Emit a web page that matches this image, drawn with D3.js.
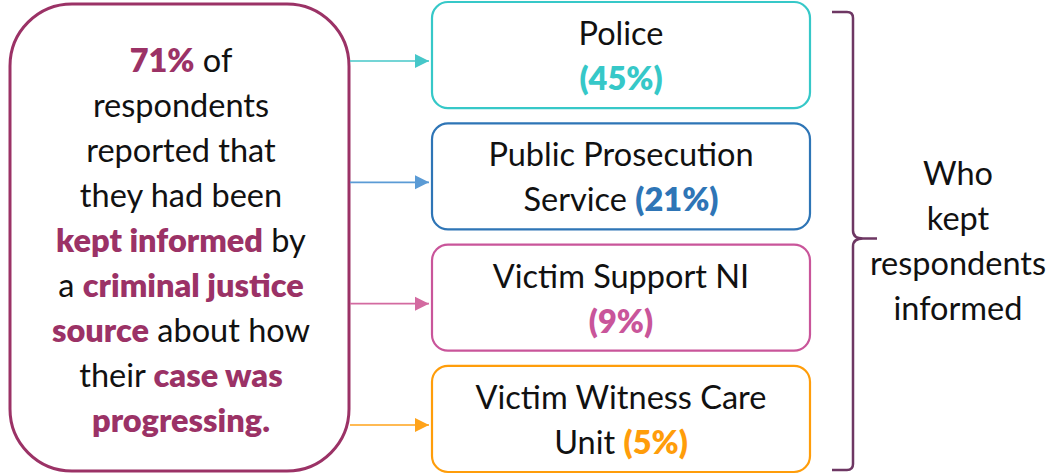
<!DOCTYPE html>
<html>
<head>
<meta charset="utf-8">
<script src="https://cdn.jsdelivr.net/npm/d3@7"></script>
<style>
  html, body { margin: 0; padding: 0; background: #fff; }
  svg { display: block; font-family: Lato, "Noto Sans", sans-serif; }
</style>
</head>
<body>
<div id="canvas"></div>
<script>
var w = 1051;
var h = 476;

// data
var sources = ["Police", "Public Prosecution Service", "Victim Support NI", "Victim Witness Care Unit"];
var shares = [45, 21, 9, 5];
var labelLines = [["Police", ""], ["Public Prosecution", "Service "], ["Victim Support NI", ""], ["Victim Witness Care", "Unit "]];
var boxColors = ["#36c8c8", "#2e75b6", "#c9559a", "#ff9d0a"];
var arrowColors = ["#46c7c9", "#5b9bd5", "#d36aa0", "#ffa31a"];
var keptInformed = 71;
var leftLines = [
  [[keptInformed + "%", true], [" of", false]],
  [["respondents", false]],
  [["reported that", false]],
  [["they had been", false]],
  [["kept informed", true], [" by", false]],
  [["a ", false], ["criminal justice", true]],
  [["source", true], [" about how", false]],
  [["their ", false], ["case was", true]],
  [["progressing.", true]]
];
var braceLines = ["Who", "kept", "respondents", "informed"];

var plum = "#9b3266";
var fontSize = 32.5;

var svg = d3.select("#canvas").append("svg")
  .attr("width", w)
  .attr("height", h);

svg.append("defs").selectAll("marker")
  .data(arrowColors)
  .join("marker")
  .attr("id", function (d, i) { return "arr" + i; })
  .attr("viewBox", "0 0 10 10")
  .attr("refX", 10)
  .attr("refY", 5)
  .attr("markerWidth", 9)
  .attr("markerHeight", 10)
  .attr("markerUnits", "strokeWidth")
  .attr("orient", "auto")
  .append("path")
  .attr("d", "M0,0 L10,5 L0,10 Z")
  .attr("fill", function (d) { return d; });

// vertical band for the four boxes
var y = d3.scaleBand()
  .domain(sources)
  .range([2, 472])
  .paddingInner(0.125)
  .paddingOuter(0);

var boxX0 = 432, boxX1 = 810;

// left box
svg.append("rect")
  .attr("x", 10).attr("y", 4)
  .attr("width", 339).attr("height", 467)
  .attr("rx", 62).attr("ry", 62)
  .attr("fill", "#fff")
  .attr("stroke", plum)
  .attr("stroke-width", 3);

var leftText = svg.append("text")
  .attr("text-anchor", "middle")
  .attr("font-size", fontSize)
  .attr("fill", "#111");
leftLines.forEach(function (line, i) {
  var t = leftText.append("tspan")
    .attr("x", 181)
    .attr("y", 72 + i * 45);
  line.forEach(function (seg) {
    t.append("tspan")
      .attr("font-weight", seg[1] ? 800 : 400)
      .attr("fill", seg[1] ? plum : "#111")
      .text(seg[0]);
  });
});

// arrows
svg.selectAll("line.arrow")
  .data(sources)
  .join("line")
  .attr("class", "arrow")
  .attr("x1", 350)
  .attr("x2", boxX0 - 3)
  .attr("y1", function (d) { return y(d) + y.bandwidth() / 2 + 6; })
  .attr("y2", function (d) { return y(d) + y.bandwidth() / 2 + 6; })
  .attr("stroke", function (d, i) { return arrowColors[i]; })
  .attr("stroke-width", 1.6)
  .attr("marker-end", function (d, i) { return "url(#arr" + i + ")"; });

// boxes
var boxes = svg.selectAll("g.box")
  .data(sources)
  .join("g")
  .attr("class", "box")
  .attr("transform", function (d) { return "translate(0," + y(d) + ")"; });

boxes.append("rect")
  .attr("x", boxX0).attr("y", 0)
  .attr("width", boxX1 - boxX0)
  .attr("height", y.bandwidth())
  .attr("rx", 16).attr("ry", 16)
  .attr("fill", "#fff")
  .attr("stroke", function (d, i) { return boxColors[i]; })
  .attr("stroke-width", 2.2);

boxes.each(function (d, i) {
  var g = d3.select(this);
  var txt = g.append("text")
    .attr("text-anchor", "middle")
    .attr("font-size", fontSize)
    .attr("fill", "#111");
  var cx = (boxX0 + boxX1) / 2;
  txt.append("tspan").attr("x", cx).attr("y", 43).text(labelLines[i][0]);
  var l2 = txt.append("tspan").attr("x", cx).attr("y", 88);
  if (labelLines[i][1]) l2.append("tspan").text(labelLines[i][1]);
  l2.append("tspan")
    .attr("font-weight", 800)
    .attr("fill", boxColors[i])
    .text("(" + shares[i] + "%)");
});

// brace
var braceTop = 12, braceBot = 470, braceMid = y(sources[1]) + y.bandwidth() + 9;
var bx = 832, bv = 853, tip = 877;
var brace = d3.path();
brace.moveTo(bx, braceTop);
brace.lineTo(bv - 6, braceTop);
brace.quadraticCurveTo(bv, braceTop, bv, braceTop + 6);
brace.lineTo(bv, braceMid - 8);
brace.quadraticCurveTo(bv, braceMid, tip - 14, braceMid);
brace.lineTo(tip, braceMid);
brace.moveTo(tip - 14, braceMid);
brace.quadraticCurveTo(bv, braceMid, bv, braceMid + 8);
brace.lineTo(bv, braceBot - 6);
brace.quadraticCurveTo(bv, braceBot, bv - 6, braceBot);
brace.lineTo(bx, braceBot);
svg.append("path")
  .attr("d", brace.toString())
  .attr("fill", "none")
  .attr("stroke", "#6e3763")
  .attr("stroke-width", 2.5);

svg.append("text")
  .attr("text-anchor", "middle")
  .attr("font-size", fontSize)
  .attr("fill", "#111")
  .selectAll("tspan")
  .data(braceLines)
  .join("tspan")
  .attr("x", 958)
  .attr("y", function (d, i) { return 185 + i * 45; })
  .text(function (d) { return d; });
</script>
</body>
</html>
